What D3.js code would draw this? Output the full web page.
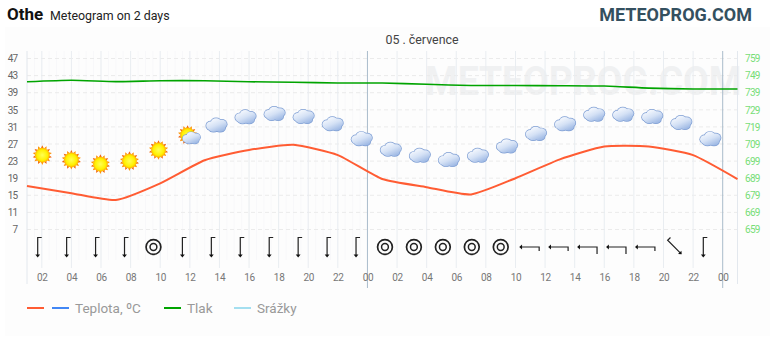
<!DOCTYPE html>
<html>
<head>
<meta charset="utf-8">
<script src="https://cdn.jsdelivr.net/npm/d3@7"></script>
<style>
html, body { margin: 0; padding: 0; background: #fff; }
svg { display: block; font-family: Roboto, sans-serif; }
.domain { display: none; }
.tick line { display: none; }
</style>
</head>
<body>
<svg width="770" height="340"></svg>
<script>
// hours counted from 00 of the first day, one reading every 3 hours
const hours = [1, 4, 7, 10, 13, 16, 19, 22, 25, 28, 31, 34, 37, 40, 43, 46, 49];
const temperature = [17.2, 15.5, 13.9, 17.8, 23.2, 25.6, 26.8, 24.4, 18.8, 16.9, 15.2, 19.0, 23.4, 26.4, 26.4, 24.4, 18.8];
const pressure = [745.4, 746.3, 745.5, 746, 746, 745.4, 745.1, 744.7, 744.7, 743.9, 743.2, 743.2, 743.1, 742.9, 741.7, 741.2, 741.2];

const tempTicks = [47, 43, 39, 35, 31, 27, 23, 19, 15, 11, 7];
const pressTicks = [759, 749, 739, 729, 719, 709, 699, 689, 679, 669, 659];
const hourTicks = d3.range(2, 49, 2);

// sky icon per 2 hour slot, and the level it floats at on the temperature axis
const sky = ["sun", "sun", "sun", "sun", "sun", "partly", "cloud", "cloud", "cloud", "cloud", "cloud", "cloud",
    "cloud", "cloud", "cloud", "cloud", "cloud", "cloud", "cloud", "cloud", "cloud", "cloud", "cloud", "cloud"];
const skyLevel = [24.4, 23.3, 22.3, 23.0, 25.6, 29.1, 31.4, 33.3, 34.1, 33.4, 31.7, 28.2,
    25.7, 24.3, 23.3, 24.3, 26.5, 29.4, 31.7, 33.9, 33.9, 33.4, 32, 28.2];

// wind: rotation of the arrow in degrees, null = calm
const wind = [0, 0, 0, 0, null, 0, 0, 0, 0, 0, 0, 0, null, null, null, null, null, 90, 90, 90, 90, 90, -45, 0];
const windForce = [1, 1, 1, 1, 0, 1, 1, 1, 1, 1, 1, 1, 0, 0, 0, 0, 0, 1, 1, 2, 2, 1, 1, 1];

const legend = [
    {label: "Teplota, ºC", colors: ["#ff5c33", "#4287f5"], x: 27},
    {label: "Tlak", colors: ["#00a400"], x: 164},
    {label: "Srážky", colors: ["#a4dff0"], x: 234}
];

const svg = d3.select("svg");
const defs = svg.append("defs");

const sunGrad = defs.append("radialGradient").attr("id", "sunFill");
sunGrad.append("stop").attr("offset", "0%").attr("stop-color", "#ffff55");
sunGrad.append("stop").attr("offset", "72%").attr("stop-color", "#fff000");
sunGrad.append("stop").attr("offset", "100%").attr("stop-color", "#ffb000");

const cloudGrad = defs.append("linearGradient").attr("id", "cloudFill")
    .attr("gradientUnits", "userSpaceOnUse")
    .attr("x1", -3).attr("y1", -7).attr("x2", 3).attr("y2", 7);
cloudGrad.append("stop").attr("offset", "0%").attr("stop-color", "#f6f9fe");
cloudGrad.append("stop").attr("offset", "50%").attr("stop-color", "#d4e1f5");
cloudGrad.append("stop").attr("offset", "100%").attr("stop-color", "#9db8e4");

// scales
const x = d3.scaleLinear().domain([1, 49]).range([27, 737.5]);
const yTemp = d3.scaleLinear().domain([7, 47]).range([229.5, 58.5]);
const yPress = d3.scaleLinear().domain([659, 759]).range([229.5, 58.5]);
const slots = d3.range(24);
const skyX = d3.scalePoint().domain(slots).range([42.3, 710.5]);
const windX = d3.scalePoint().domain(slots).range([37.7, 703.3]);

// background panel
svg.append("rect").attr("x", 5).attr("y", 27).attr("width", 765).attr("height", 309).attr("fill", "#fdfdfd");

// header
svg.append("text").attr("x", 7).attr("y", 20).attr("font-size", 17).attr("font-weight", 700).attr("fill", "#111").text("Othe");
svg.append("text").attr("x", 50).attr("y", 20).attr("font-size", 12.4).attr("fill", "#222").text("Meteogram on 2 days");
svg.append("text").attr("x", 752).attr("y", 21).attr("text-anchor", "end").attr("font-size", 18).attr("font-weight", 700).attr("fill", "#34505f").text("METEOPROG.COM");
svg.append("text").attr("x", 422).attr("y", 44).attr("text-anchor", "middle").attr("font-size", 12.4).attr("fill", "#444").text("05 . července");

// watermark, squeezed sideways like in the original
svg.append("text").attr("transform", "translate(425,95) scale(0.91,1)")
    .attr("font-size", 41).attr("font-weight", 700)
    .attr("fill", "#f0f1f2").text("METEOPROG.COM");

// grid
svg.append("g").selectAll("line").data(d3.range(1, 24, 0.5)).join("line")
    .attr("x1", d => x(d)).attr("x2", d => x(d))
    .attr("y1", 51).attr("y2", 260)
    .attr("stroke", "#f8f8fa");
svg.append("g").selectAll("line").data(tempTicks).join("line")
    .attr("x1", 27).attr("x2", 737.5)
    .attr("y1", d => yTemp(d)).attr("y2", d => yTemp(d))
    .attr("stroke", "#ebebeb").attr("stroke-dasharray", "4,3");
svg.append("g").selectAll("line").data(hourTicks).join("line")
    .attr("x1", d => x(d)).attr("x2", d => x(d))
    .attr("y1", 51).attr("y2", d => d % 24 === 0 ? 288 : 268)
    .attr("stroke", d => d % 24 === 0 ? "#a9bccb" : "#e9edf1");
svg.append("g").selectAll("line").data([1, 49]).join("line")
    .attr("x1", d => x(d)).attr("x2", d => x(d))
    .attr("y1", 51).attr("y2", 284)
    .attr("stroke", "#e3e8ee");

// axes
svg.append("g").attr("transform", "translate(17.5,0)")
    .call(d3.axisLeft(yTemp).tickValues(tempTicks).tickSize(0).tickPadding(0))
    .call(g => g.selectAll("text").attr("font-family", "Roboto").attr("font-size", 10).attr("letter-spacing", -0.7).attr("fill", "#666"));
svg.append("g").attr("transform", "translate(745,0)")
    .call(d3.axisRight(yPress).tickValues(pressTicks).tickSize(0).tickPadding(0))
    .call(g => g.selectAll("text").attr("font-family", "Roboto").attr("font-size", 10).attr("letter-spacing", -0.7).attr("fill", "#77dd77"));
svg.append("g").attr("transform", "translate(0,273.5)")
    .call(d3.axisBottom(x).tickValues(hourTicks).tickSize(0).tickPadding(0).tickFormat(d => d3.format("02")(d % 24)))
    .call(g => g.selectAll("text").attr("font-family", "Roboto").attr("font-size", 10).attr("letter-spacing", -0.3).attr("fill", "#777"));

// lines
const line = d3.line().curve(d3.curveCardinal.tension(0.45)).x((d, i) => x(hours[i]));
svg.append("path").attr("fill", "none").attr("stroke", "#00a400").attr("stroke-width", 1.6)
    .attr("d", line.y(d => yPress(d))(pressure));
svg.append("path").attr("fill", "none").attr("stroke", "#ff5c33").attr("stroke-width", 2)
    .attr("d", line.y(d => yTemp(d))(temperature));

// sky icons
function drawSun(g) {
    const rays = d3.range(14).map(i => i * 360 / 14);
    g.selectAll("path.ray").data(rays).join("path").attr("class", "ray")
        .attr("d", "M-1.3,-7 L0,-9.8 L1.3,-7 Z")
        .attr("fill", (d, i) => i % 2 ? "#ff9000" : "#f0640c")
        .attr("transform", d => `rotate(${d})`);
    g.append("circle").attr("r", 7.4).attr("fill", "url(#sunFill)");
}
function drawCloud(g) {
    const puffs = [[-6, 0.5, 4.4, 4.2], [-0.5, -2.8, 5.2, 4.2], [5, -1, 5.2, 4.4], [-3, 3, 5, 3.6], [3.5, 3, 5, 3.6]];
    g.selectAll("ellipse.edge").data(puffs).join("ellipse").attr("class", "edge")
        .attr("cx", d => d[0]).attr("cy", d => d[1])
        .attr("rx", d => d[2] + 0.7).attr("ry", d => d[3] + 0.7).attr("fill", "#7f9fd4");
    g.selectAll("ellipse.body").data(puffs).join("ellipse").attr("class", "body")
        .attr("cx", d => d[0]).attr("cy", d => d[1])
        .attr("rx", d => d[2]).attr("ry", d => d[3]).attr("fill", "url(#cloudFill)");
}
svg.append("g").selectAll("g").data(slots).join("g")
    .attr("transform", i => `translate(${skyX(i)},${yTemp(skyLevel[i])})`)
    .each(function (i) {
        const g = d3.select(this);
        if (sky[i] === "sun") drawSun(g);
        if (sky[i] === "cloud") drawCloud(g);
        if (sky[i] === "partly") {
            drawSun(g.append("g"));
            drawCloud(g.append("g").attr("transform", "translate(4,3) scale(0.85)"));
        }
    });

// wind icons
svg.append("g").selectAll("g").data(slots).join("g")
    .attr("transform", i => `translate(${windX(i)},247)`)
    .each(function (i) {
        const g = d3.select(this);
        if (wind[i] === null) {
            g.append("circle").attr("r", 7.4).attr("fill", "none").attr("stroke", "#222").attr("stroke-width", 1.7);
            g.append("circle").attr("r", 3.4).attr("fill", "none").attr("stroke", "#222").attr("stroke-width", 1.5);
            return;
        }
        const a = g.append("g").attr("transform", `rotate(${wind[i]})`);
        const tick = windForce[i] > 1 ? 7 : 4;
        a.append("path").attr("fill", "none").attr("stroke", "#222").attr("stroke-width", 1.2)
            .attr("d", `M${tick},-9.5 H0 V9`);
        a.append("path").attr("fill", "#111").attr("d", "M-2.4,7.6 H2.4 L0,10.4 Z");
    });

// legend
const item = svg.append("g").selectAll("g").data(legend).join("g")
    .attr("transform", d => `translate(${d.x},308)`);
item.each(function (d) {
    const g = d3.select(this);
    g.selectAll("line").data(d.colors).join("line")
        .attr("x1", (c, i) => i * 25).attr("x2", (c, i) => i * 25 + 17)
        .attr("stroke", c => c).attr("stroke-width", 2);
    g.append("text").attr("x", (d.colors.length - 1) * 25 + 23).attr("y", 5)
        .attr("font-size", 13.5).attr("fill", "#999").text(d.label);
});
</script>
</body>
</html>
